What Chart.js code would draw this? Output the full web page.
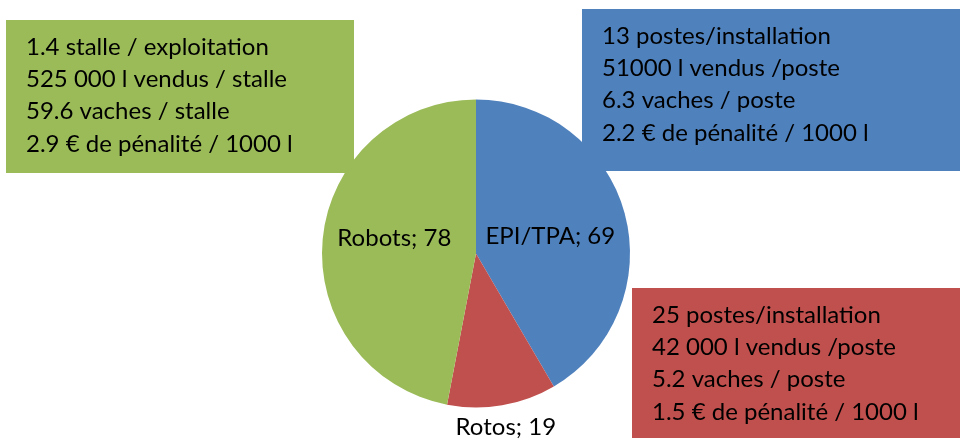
<!DOCTYPE html>
<html lang="fr">
<head>
  <meta charset="UTF-8">
  <title>Répartition des installations de traite</title>
  <script src="https://cdn.jsdelivr.net/npm/chart.js"></script>
  <style>
    html, body {
      margin: 0;
      padding: 0;
      background: #ffffff;
    }
    #wrap {
      width: 964px;
      height: 441px;
    }
  </style>
</head>
<body>
  <div id="wrap"><canvas id="pie" width="964" height="441"></canvas></div>

  <script>
    // données du graphique
    const categories = ['EPI/TPA', 'Rotos', 'Robots'];
    const values = [69, 19, 78];
    const sliceColors = ['#4F81BD', '#C0504D', '#9BBB59'];

    // textes des encadrés
    const notesEpi = ['13 postes/installation', '51000 l vendus /poste', '6.3 vaches / poste', '2.2 € de pénalité / 1000 l'];
    const notesRotos = ['25 postes/installation', '42 000 l vendus /poste', '5.2 vaches / poste', '1.5 € de pénalité / 1000 l'];
    const notesRobots = ['1.4 stalle / exploitation', '525 000 l vendus / stalle', '59.6 vaches / stalle', '2.9 € de pénalité / 1000 l'];

    const FONT = '24px Lato, "Open Sans", sans-serif';

    // encadrés colorés
    const boxes = [
      { x: 6, y: 20, w: 348, h: 153, color: '#9BBB59', lines: notesRobots },
      { x: 582, y: 9, w: 378, h: 162, color: '#4F81BD', lines: notesEpi },
      { x: 632, y: 288, w: 328, h: 150, color: '#C0504D', lines: notesRotos }
    ];

    const boxPlugin = {
      id: 'boxes',
      afterDatasetsDraw(chart) {
        const ctx = chart.ctx;
        ctx.save();
        boxes.forEach(b => {
          ctx.fillStyle = b.color;
          ctx.fillRect(b.x, b.y, b.w, b.h);
          ctx.fillStyle = '#000000';
          ctx.font = FONT;
          ctx.textAlign = 'left';
          ctx.textBaseline = 'alphabetic';
          b.lines.forEach((line, i) => {
            ctx.fillText(line, b.x + 20, b.y + 35 + i * 32.2);
          });
        });
        ctx.restore();
      }
    };

    // étiquettes "catégorie; valeur"
    const labelPlugin = {
      id: 'sliceLabels',
      afterDraw(chart) {
        const ctx = chart.ctx;
        const meta = chart.getDatasetMeta(0);
        ctx.save();
        ctx.font = FONT;
        ctx.fillStyle = '#000000';
        ctx.textAlign = 'center';
        ctx.textBaseline = 'middle';
        meta.data.forEach((arc, i) => {
          const p = arc.getProps(['x', 'y', 'startAngle', 'endAngle', 'outerRadius'], true);
          const mid = (p.startAngle + p.endAngle) / 2;
          let r = p.outerRadius * 0.5;
          let dy = 0;
          if (values[i] < 30) r = p.outerRadius + 22;
          if (i === 2) dy = -8;
          const tx = p.x + Math.cos(mid) * r;
          const ty = p.y + Math.sin(mid) * r + dy;
          ctx.fillText(categories[i] + '; ' + values[i], tx - (i === 2 ? 5 : 0), ty + (i === 0 ? 3 : 0));
        });
        ctx.restore();
      }
    };

    new Chart(document.getElementById('pie'), {
      type: 'pie',
      data: {
        labels: categories,
        datasets: [{
          data: values,
          backgroundColor: sliceColors,
          borderWidth: 0
        }]
      },
      options: {
        responsive: false,
        animation: false,
        layout: {
          padding: { left: 322, right: 334, top: 99, bottom: 33 }
        },
        plugins: {
          legend: { display: false },
          tooltip: { enabled: false }
        }
      },
      plugins: [boxPlugin, labelPlugin]
    });
  </script>
</body>
</html>
